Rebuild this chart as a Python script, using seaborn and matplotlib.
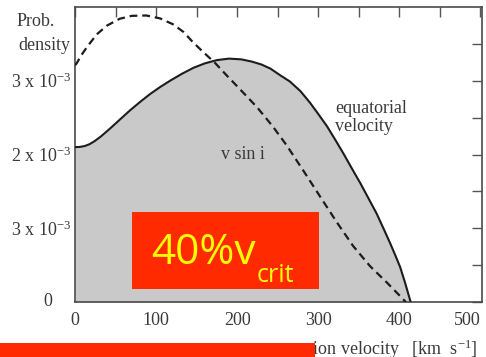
import matplotlib
matplotlib.use("Agg")
import matplotlib.pyplot as plt
from matplotlib.patches import Rectangle
from matplotlib.transforms import blended_transform_factory
from matplotlib.ticker import MultipleLocator
import seaborn as sns
import pandas as pd

# ---- data (y in tick units of the original chart) ----
eq_v = [0, 6, 12, 18, 24, 32, 43, 55, 68, 80, 92, 105, 118, 132, 146, 160, 175, 190, 205,
        218, 230, 241, 253, 265, 278, 290, 300, 311, 321, 331, 341, 352, 362, 372, 381,
        389, 395, 401, 407, 414]
eq_y = [4.20, 4.205, 4.23, 4.28, 4.36, 4.49, 4.70, 4.94, 5.20, 5.42, 5.63, 5.83, 6.01, 6.19,
        6.35, 6.47, 6.56, 6.60, 6.58, 6.52, 6.44, 6.33, 6.15, 5.98, 5.72, 5.40, 5.10, 4.76,
        4.40, 4.03, 3.64, 3.22, 2.81, 2.40, 1.97, 1.58, 1.27, 0.95, 0.53, 0.0]

vs_v = [0, 2, 8, 16, 27, 39, 55, 70, 88, 105, 121, 134, 144, 158, 172, 186, 200, 213, 225,
        244, 261, 282, 302, 323, 343, 364, 385, 401, 408]
vs_y = [6.42, 6.47, 6.70, 6.95, 7.26, 7.49, 7.68, 7.76, 7.77, 7.69, 7.53, 7.32, 7.08, 6.78,
        6.50, 6.17, 5.85, 5.55, 5.27, 4.76, 4.25, 3.55, 2.87, 2.16, 1.52, 0.97, 0.52, 0.16, 0.0]

x_ticks = [0, 100, 200, 300, 400, 500]
x_ticklabels = ["0", "100", "200", "300", "400", "500"]
y_ticks = [0, 1, 2, 3, 4, 5, 6, 7]
y_ticklabels = ["", "", "3 x 10$^{-3}$", "", "2 x 10$^{-3}$", "", "3 x 10$^{-3}$", "density"]

eq_df = pd.DataFrame({"v": eq_v, "p": eq_y})
vs_df = pd.DataFrame({"v": vs_v, "p": vs_y})

sns.set_theme(style="white")
plt.rcParams["font.family"] = ["Liberation Serif", "DejaVu Serif"]
plt.rcParams["mathtext.default"] = "regular"

W, H = 486, 357
fig = plt.figure(figsize=(W / 100, H / 100), dpi=100)
fig.patch.set_facecolor("white")
ax = fig.add_axes([75 / W, 55 / H, 407 / W, 295 / H])
ax.set_facecolor("white")

txt = "#3a3a3a"
line_c = "#1c1c1c"

ax.fill_between(eq_df["v"], eq_df["p"], 0, color="#c9c9c9", linewidth=0, zorder=1)
sns.lineplot(data=eq_df, x="v", y="p", ax=ax, color=line_c, linewidth=1.5, sort=False, zorder=3)
sns.lineplot(data=vs_df, x="v", y="p", ax=ax, color=line_c, linewidth=1.6, sort=False,
             linestyle=(0, (3.5, 2.2)), zorder=3)

ax.set_xlim(0, 502)
ax.set_ylim(0, 8)
ax.set_xlabel("")
ax.set_ylabel("")
ax.set_xticks(x_ticks)
ax.set_xticklabels(x_ticklabels)
ax.xaxis.set_minor_locator(MultipleLocator(50))
ax.set_yticks(y_ticks)
ax.set_yticklabels(y_ticklabels)
labs = ax.get_xticklabels()
labs[-1].set_horizontalalignment("right")

for s in ax.spines.values():
    s.set_color("#4a4a4a")
    s.set_linewidth(1.2)

ax.tick_params(which="both", direction="in", length=7.5, width=1.0, color="#555555",
               top=True, right=True, labelsize=13, labelcolor=txt)
ax.tick_params(axis="x", which="both", pad=7)
ax.tick_params(axis="y", which="both", pad=3)
ax.tick_params(axis="x", which="minor", labelbottom=False)

# separate labels
tr = blended_transform_factory(ax.transAxes, ax.transData)
ax.text(-0.057, 0.0, "0", transform=tr, ha="right", va="center", fontsize=13, color=txt)
ax.text(-0.1425, 7.62, "Prob.", transform=tr, ha="left", va="center", fontsize=13, color=txt)

ax.text(321, 5.0, "equatorial\nvelocity", ha="left", va="center", fontsize=13,
        color=txt, linespacing=1.1, zorder=4)
ax.text(180, 4.0, "v sin i", ha="left", va="center", fontsize=13, color=txt, zorder=4)

fig.text(478 / W, 1 - 349 / H, "rotation velocity   [km  s$^{-1}$]", ha="right",
         va="center", fontsize=13, color=txt)

# red overlays
fig.add_artist(Rectangle((132 / W, 1 - 289 / H), (319 - 132) / W, (289 - 212) / H,
                         transform=fig.transFigure, facecolor="#ff2a00", edgecolor="none", zorder=10))
fig.add_artist(Rectangle((0, 0), 315 / W, 14 / H, transform=fig.transFigure,
                         facecolor="#ff2a00", edgecolor="none", zorder=10))
fig.text(151 / W, 1 - 264 / H, "40%v", ha="left", va="baseline", fontsize=30.5,
         color="#ffff00", family=["Open Sans", "DejaVu Sans"], zorder=11)
fig.text(257 / W, 1 - 282 / H, "crit", ha="left", va="baseline", fontsize=18,
         color="#ffff00", family=["Open Sans", "DejaVu Sans"], zorder=11)

fig.savefig("out.png", dpi=100, facecolor="white")
